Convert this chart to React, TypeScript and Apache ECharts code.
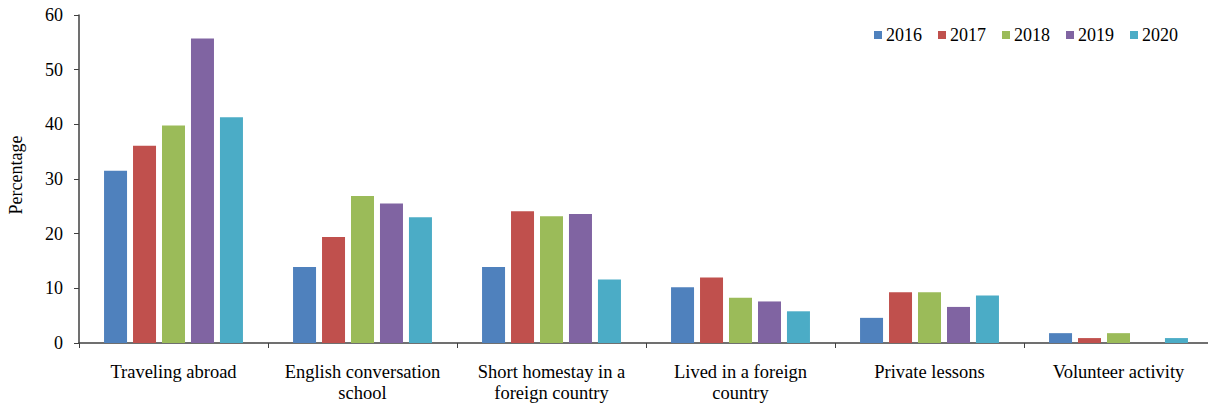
import React, { useEffect, useRef } from "react";
import * as echarts from "echarts";

const categories = [
  "Traveling abroad",
  "English conversation\nschool",
  "Short homestay in a\nforeign country",
  "Lived in a foreign\ncountry",
  "Private lessons",
  "Volunteer activity",
];
const years = ["2016", "2017", "2018", "2019", "2020"];
const v2016 = [31.5, 13.9, 13.9, 10.2, 4.6, 1.8];
const v2017 = [36.1, 19.4, 24.1, 12.0, 9.3, 0.9];
const v2018 = [39.8, 26.9, 23.2, 8.3, 9.3, 1.8];
const v2019 = [55.7, 25.5, 23.6, 7.6, 6.6, 0];
const v2020 = [41.3, 23.0, 11.6, 5.8, 8.7, 0.9];
const yTicks = { min: 0, max: 60, interval: 10 };
const colors = ["#4F81BD", "#C0504D", "#9BBB59", "#8064A2", "#4BACC6"];

const FONT = "Liberation Serif";

export default function App() {
  const ref = useRef<HTMLDivElement>(null);
  useEffect(() => {
    document.body.style.margin = "0";
    if (!ref.current) return;
    const chart = echarts.init(ref.current, null, { renderer: "svg" });
    const seriesData = [v2016, v2017, v2018, v2019, v2020];
    chart.setOption({
      animation: false,
      color: colors,
      textStyle: { fontFamily: FONT, color: "#000" },
      legend: {
        data: years,
        right: 25,
        top: 21,
        itemWidth: 8,
        itemHeight: 8,
        itemGap: 16,
        icon: "rect",
        textStyle: { fontFamily: FONT, fontSize: 18, fontWeight: "normal", color: "#000", padding: [0, 0, 0, -1] },
      },
      grid: { left: 79, right: -5, top: 15, bottom: 61, containLabel: false, outerBoundsMode: "none" },
      xAxis: {
        type: "category",
        data: categories,
        axisLine: { show: true, lineStyle: { color: "#404040", width: 1.5 } },
        axisTick: { show: true, length: 5, inside: false, alignWithLabel: false, lineStyle: { color: "#404040" } },
        axisLabel: {
          interval: 0,
          margin: 18,
          fontFamily: FONT,
          fontSize: 18.5,
          color: "#000",
          lineHeight: 21,
        },
      },
      yAxis: {
        type: "value",
        min: yTicks.min,
        max: yTicks.max,
        interval: yTicks.interval,
        name: "Percentage",
        nameLocation: "middle",
        nameGap: 54,
        nameTextStyle: { fontFamily: FONT, fontSize: 18, color: "#000", padding: [0, 0, 0, 8] },
        axisLine: { show: true, lineStyle: { color: "#404040", width: 1.5 } },
        axisTick: { show: true, length: 5, lineStyle: { color: "#404040" } },
        splitLine: { show: false },
        axisLabel: { margin: 16, fontFamily: FONT, fontSize: 18, color: "#000" },
      },
      series: years.map((y, i) => ({
        name: y,
        type: "bar",
        data: seriesData[i],
        barWidth: 23,
        barGap: "26%",
        itemStyle: { color: colors[i] },
      })),
    });
    return () => chart.dispose();
  }, []);
  return <div ref={ref} style={{ width: 1208, height: 404 }} />;
}
